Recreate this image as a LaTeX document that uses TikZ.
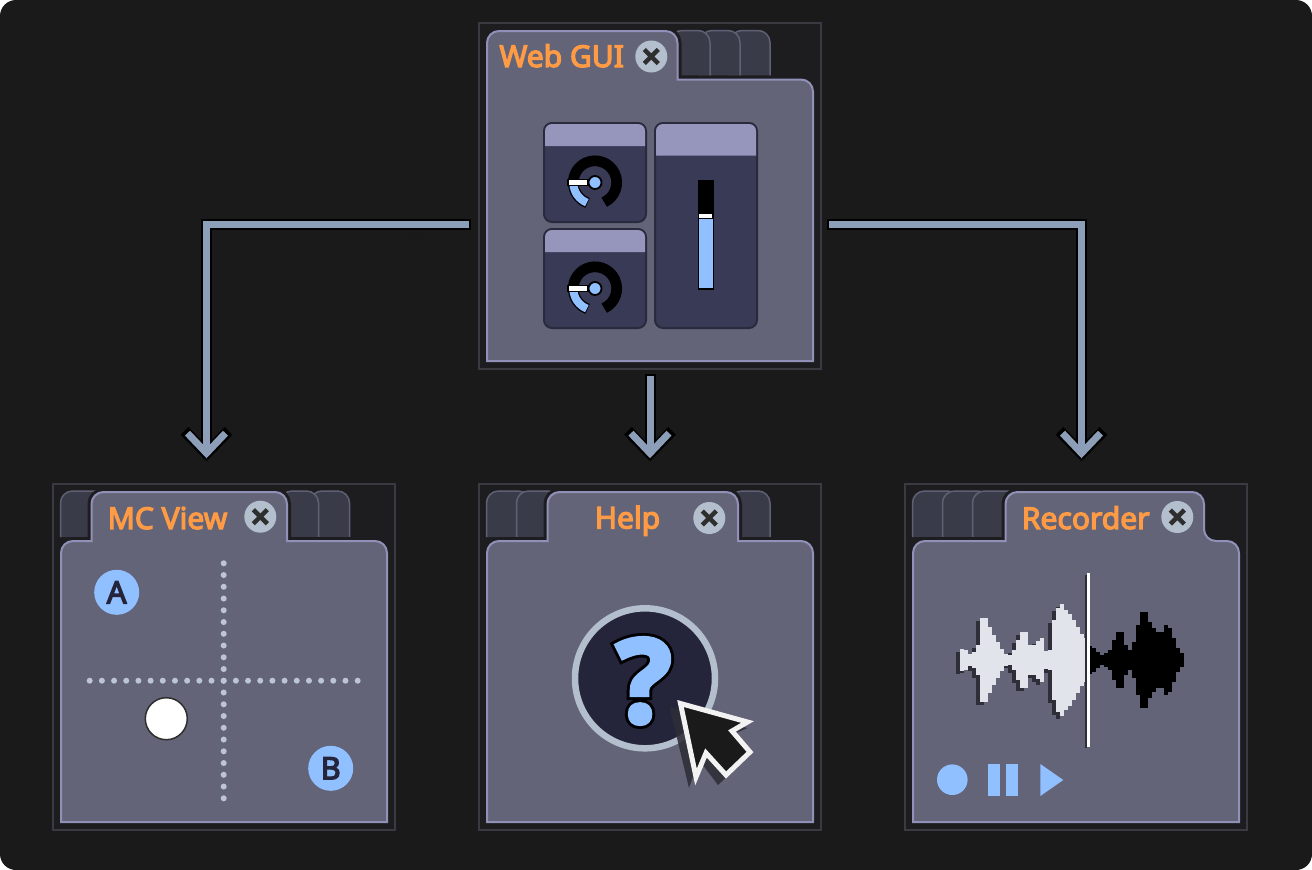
\documentclass[tikz,border=0pt]{standalone}
\usepackage{fontspec}
\usepackage{tikz}
\usetikzlibrary{calc, positioning, arrows.meta}
\setmainfont{Noto Sans}
\newfontfamily\titlefont{Noto Sans}[FakeBold=4]
\newfontfamily\markfont{Open Sans Bold}[FakeBold=4]
\newfontfamily\markline{Open Sans Bold}[FakeBold=9]
\definecolor{canvasbg}{RGB}{26, 26, 26}
\definecolor{framebg}{RGB}{29, 29, 31}
\definecolor{frameline}{RGB}{58, 58, 66}
\definecolor{bodyfill}{RGB}{100, 100, 120}
\definecolor{bodyline}{RGB}{144, 144, 184}
\definecolor{tabfill}{RGB}{58, 59, 73}
\definecolor{tabline}{RGB}{96, 96, 116}
\definecolor{titleorange}{RGB}{255, 154, 69}
\definecolor{closegray}{RGB}{180, 191, 206}
\definecolor{connblue}{RGB}{141, 159, 184}
\definecolor{iconblue}{RGB}{144, 192, 255}
\definecolor{cardfill}{RGB}{56, 58, 86}
\definecolor{cardhead}{RGB}{150, 150, 188}
\definecolor{cardline}{RGB}{42, 42, 62}
\definecolor{darknavy}{RGB}{36, 36, 58}
\definecolor{waveshadow}{RGB}{46, 46, 56}
\definecolor{wavelight}{RGB}{226, 228, 236}
\tikzset{
  panelframe/.style={draw=frameline, fill=framebg, line width=1.5pt, minimum width=342pt, minimum height=346pt, inner sep=0pt},
  panelbody/.style={draw=bodyline, fill=bodyfill, line width=2pt, preaction={draw=framebg, line width=8pt}},
  idletab/.style={draw=tabline, fill=tabfill, line width=1.5pt, rounded corners=12pt},
  titletext/.style={font=\titlefont\fontsize{30}{30}\selectfont, text=titleorange, anchor=base, inner sep=0pt},
  closebtn/.style={fill=closegray},
  closecross/.style={draw=black!82, line width=4.5pt},
  conn/.style={draw=connblue, line width=7pt, shorten >=25pt, shorten <=#1,
    -{Straight Barb[length=20pt, width=38pt, line width=7pt]},
    preaction={draw=black, line width=11pt, shorten >=22pt, shorten <=#1-1.5pt,
      -{Straight Barb[length=22.5pt, width=44pt, line width=11pt]}}},
  dotmark/.style={fill=closegray!90!white},
  lettermark/.style={circle, fill=iconblue, minimum size=45pt, inner sep=0pt, text=darknavy, font=\titlefont\fontsize{31}{31}\selectfont},
}
\begin{document}
\begin{tikzpicture}[x=1pt, y=-1pt]
  \useasboundingbox (0,0) rectangle (1312,870);
  \fill[white] (0,0) rectangle (1312,870);
  \fill[canvasbg, rounded corners=16pt] (0,0) rectangle (1312,870);

  % panels
  \node[panelframe] (webgui) at (650,196) {};
  \node[panelframe] (mcview) at (224,657) {};
  \node[panelframe] (helpview) at (650,657) {};
  \node[panelframe] (recorder) at (1076,657) {};

  % connectors
  \draw[conn=9pt] ([yshift=-28pt]webgui.west) -| ([xshift=-17.5pt]mcview.north);
  \draw[conn=6pt] (webgui.south) -- (helpview.north);
  \draw[conn=7pt] ([yshift=-28pt]webgui.east) -| ([xshift=5.5pt]recorder.north);
  \node[font=\fontsize{6}{6}\selectfont, text=black!90, inner sep=0pt] (sizelabel) at (417,236) {112 px};

  % idle tabs
  \foreach \xa/\xb in {730/770, 700/740, 670/710}
    \draw[idletab] (\xa,75.5) -- (\xa,30.5) -- (\xb,30.5) -- (\xb,75.5);
  \foreach \xa/\xb in {60.5/110, 310/349.5, 280/318.5, 486.5/530, 516.5/560, 730/770, 912.5/960, 942.5/990, 972.5/1020}
    \draw[idletab] (\xa,537) -- (\xa,491) -- (\xb,491) -- (\xb,537);

  % active tabs
  \draw[panelbody] (487,361) [rounded corners=12pt] -- (487,31) -- (677.5,31) [sharp corners] -- (677.5,79.5) [rounded corners=12pt] -- (813,79.5) [sharp corners] -- (813,361) -- cycle;
  \draw[panelbody] (61,822) [rounded corners=12pt] -- (61,541) [sharp corners] -- (91.5,541) [rounded corners=12pt] -- (91.5,492) -- (287,492) [sharp corners] -- (287,541) [rounded corners=12pt] -- (387,541) [sharp corners] -- (387,822) -- cycle;
  \draw[panelbody] (487,822) [rounded corners=12pt] -- (487,541) [sharp corners] -- (547.5,541) [rounded corners=12pt] -- (547.5,492) -- (738,492) [sharp corners] -- (738,541) [rounded corners=12pt] -- (813,541) [sharp corners] -- (813,822) -- cycle;
  \draw[panelbody] (913,822) [rounded corners=12pt] -- (913,541) [sharp corners] -- (1005.5,541) [rounded corners=12pt] -- (1005.5,492) -- (1204,492) -- (1204,541) -- (1239,541) [sharp corners] -- (1239,822) -- cycle;

  % titles and close buttons
  \node[titletext] (webtitle) at (561.7,67) {Web GUI};
  \node[titletext] (mctitle) at (167.5,529) {MC View};
  \node[titletext] (helptitle) at (627.5,528.5) {Help};
  \node[titletext] (rectitle) at (1085.7,529) {Recorder};
  \foreach \cx/\cy in {651.3/56.5, 260.3/516.7, 709.3/518, 1177.3/517} {
    \fill[closebtn] (\cx,\cy) circle[radius=16];
    \draw[closecross] ({\cx-7},{\cy-7}) -- ({\cx+7},{\cy+7}) ({\cx+7},{\cy-7}) -- ({\cx-7},{\cy+7});
  }

  % web gui widgets
  \foreach \xa/\ya/\xb/\yb/\yh in {544/123/646/222/146, 544/229/646/328/252, 655/123/757/328/155.5} {
    \draw[draw=cardline, fill=cardfill, line width=2pt, rounded corners=8pt] (\xa,\ya) rectangle (\xb,\yb);
    \fill[cardhead] ({\xa+1},\yh) [rounded corners=7pt] -- ({\xa+1},{\ya+1}) -- ({\xb-1},{\ya+1}) [sharp corners] -- ({\xb-1},\yh) -- cycle;
  }
  \foreach \ky in {182.5, 288.5} {
    \begin{scope}[shift={(595,\ky)}]
      \draw[black, line width=10.7pt] (65:21.7) arc[start angle=65, end angle=-180, radius=21.7];
      \draw[black, line width=10.7pt] (180:21.7) arc[start angle=180, end angle=110, radius=21.7];
      \draw[iconblue, line width=8pt] (178:21.7) arc[start angle=178, end angle=112, radius=21.7];
      \draw[black, fill=white, line width=1.5pt] (-27,-2.8) rectangle (-7,2.8);
      \draw[black, fill=iconblue, line width=1.8pt] (0,0) circle[radius=6.5];
    \end{scope}
  }
  \fill[black] (697.5,179.5) rectangle (714,290);
  \fill[iconblue] (699,218.5) rectangle (712.5,288.3);
  \draw[black, fill=white, line width=1.3pt] (698.5,213) rectangle (713,218.5);

  % mc view
  \foreach \i in {0,...,20}
    \fill[dotmark] (223.7,{563.3+11.75*\i}) circle[radius=3];
  \foreach \i in {0,...,22}
    \fill[dotmark] ({89.7+12.18*\i},680.7) circle[radius=3];
  \node[lettermark] (markA) at (116.7,592.3) {A};
  \node[lettermark] (markB) at (330.7,768.3) {B};
  \draw[draw=black!82, fill=white, line width=1.5pt] (166.3,718.7) circle[radius=21];

  % help
  \draw[draw=closegray, fill=darknavy, line width=6.5pt] (645,678.3) circle[radius=70];
  \node[text=black, font=\markline\fontsize{116}{116}\selectfont, inner sep=0pt] (helpmarkline) at (644,681) {?};
  \node[text=iconblue, font=\markfont\fontsize{116}{116}\selectfont, inner sep=0pt] (helpmark) at (644,681) {?};
  \fill[waveshadow, opacity=.88] (669.5,707) -- (747.5,728) -- (725,738) -- (746,759) -- (718,785) -- (699,760) -- (689,788) -- cycle;
  \draw[draw=white!95!black, fill=canvasbg, line width=5pt, miter limit=8] (680.5,703.5) -- (747.5,722) -- (732,731) -- (750,752) -- (726,775) -- (706,753) -- (696,777) -- cycle;

  % recorder
  \foreach \h [count=\i from 0] in {11,10,6,8,15,42,42,33,25,18,11,6,5,10,20,28,28,15,15,19,22,9,10,40,52,56,50,46,40,33,26,22}
    \fill[waveshadow] ({956+4*\i},{660-\h+2.5}) rectangle ({960+4*\i},{660+\h+2.5});
  \foreach \h [count=\i from 0] in {11,10,6,8,15,42,42,33,25,18,11,6,5,10,20,28,28,15,15,19,22,9,10,40,52,56,50,46,40,33,26,22}
    \fill[wavelight] ({960+4*\i},{660-\h}) rectangle ({964.2+4*\i},{660+\h});
  \foreach \h [count=\i from 0] in {14,12,8,5,7,10,20,28,28,15,10,18,35,48,48,38,32,28,28,35,32,22,12,7}
    \fill[black] ({1088+4*\i},{660-\h}) rectangle ({1092.2+4*\i},{660+\h});
  \draw[waveshadow, line width=2pt] (1086,575) -- (1086,748);
  \draw[white, line width=3pt] (1088.2,573) -- (1088.2,746.5);
  \fill[iconblue] (952.3,779.7) circle[radius=15.3];
  \fill[iconblue] (988,764) rectangle (1000.3,795.7);
  \fill[iconblue] (1006,764) rectangle (1018.3,795.7);
  \fill[iconblue] (1040.3,764) -- (1063.3,780) -- (1040.3,796) -- cycle;
\end{tikzpicture}
\end{document}
